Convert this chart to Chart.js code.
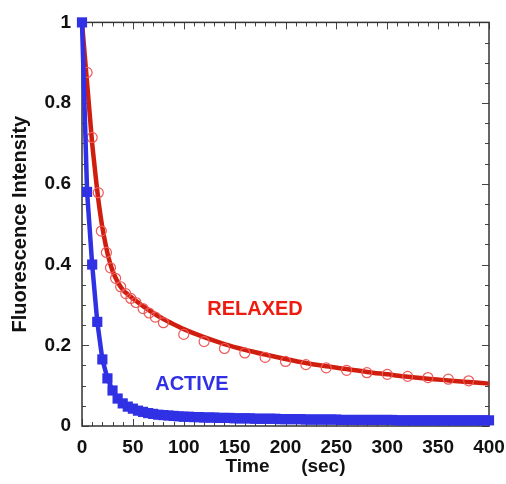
<!DOCTYPE html>
<html>
<head>
<meta charset="utf-8">
<title>Fluorescence decay</title>
<script src="https://cdn.jsdelivr.net/npm/chart.js@4.4.1/dist/chart.umd.min.js"></script>
<style>
    html, body { margin: 0; padding: 0; background: #ffffff; }
    #wrap { width: 506px; height: 484px; }
</style>
</head>
<body>
<div id="wrap"><canvas id="decay"></canvas></div>
<script>
// Fluorescence decay after photobleaching, active vs relaxed fibres
// values

// ACTIVE: measured points every 5 sec (blue squares, joined by the fit)
const activeTime = [
    0, 5, 10, 15, 20, 25, 30, 35, 40, 45,
    50, 55, 60, 65, 70, 75, 80, 85, 90, 95,
    100, 105, 110, 115, 120, 125, 130, 135, 140, 145,
    150, 155, 160, 165, 170, 175, 180, 185, 190, 195,
    200, 205, 210, 215, 220, 225, 230, 235, 240, 245,
    250, 255, 260, 265, 270, 275, 280, 285, 290, 295,
    300, 305, 310, 315, 320, 325, 330, 335, 340, 345,
    350, 355, 360, 365, 370, 375, 380, 385, 390, 395,
    400
];
const activeIntensity = [
    1.000, 0.580, 0.400, 0.258, 0.165, 0.118, 0.088, 0.068, 0.056, 0.048,
    0.043, 0.038, 0.035, 0.032, 0.030, 0.028, 0.027, 0.026, 0.025, 0.024,
    0.023, 0.023, 0.022, 0.022, 0.021, 0.021, 0.021, 0.020, 0.020, 0.020,
    0.019, 0.019, 0.019, 0.019, 0.018, 0.018, 0.018, 0.018, 0.018, 0.017,
    0.017, 0.017, 0.017, 0.017, 0.016, 0.016, 0.016, 0.016, 0.016, 0.016,
    0.016, 0.015, 0.015, 0.015, 0.015, 0.015, 0.015, 0.015, 0.015, 0.015,
    0.015, 0.015, 0.014, 0.014, 0.014, 0.014, 0.014, 0.014, 0.014, 0.014,
    0.014, 0.014, 0.014, 0.014, 0.014, 0.014, 0.014, 0.014, 0.014, 0.014,
    0.014
];

// RELAXED: measured points (red open circles)
const relaxedTime = [
    5, 10, 16, 19, 24, 28, 33, 38, 43, 48,
    53, 60, 66, 72, 80, 100, 120, 140, 160, 180,
    200, 220, 240, 260, 280, 300, 320, 340, 360, 380
];
const relaxedIntensity = [
    0.876, 0.715, 0.578, 0.483, 0.430, 0.392, 0.366, 0.345, 0.328, 0.316,
    0.306, 0.291, 0.280, 0.270, 0.256, 0.227, 0.209, 0.192, 0.181, 0.170,
    0.160, 0.152, 0.144, 0.138, 0.132, 0.128, 0.123, 0.120, 0.116, 0.112
];

// RELAXED: fitted curve (red line)
const relaxedFitTime = [
    0, 2, 4, 6, 8, 10, 12, 14, 16, 18,
    20, 23, 26, 30, 35, 40, 45, 50, 60, 70,
    80, 90, 100, 120, 140, 160, 180, 200, 220, 240,
    260, 280, 300, 320, 340, 360, 380, 400
];
const relaxedFitIntensity = [
    1.000, 0.940, 0.880, 0.820, 0.760, 0.700, 0.652, 0.605, 0.562, 0.525,
    0.492, 0.452, 0.418, 0.385, 0.357, 0.338, 0.326, 0.316, 0.297, 0.280,
    0.265, 0.252, 0.240, 0.220, 0.203, 0.189, 0.177, 0.166, 0.156, 0.148,
    0.141, 0.134, 0.128, 0.122, 0.117, 0.113, 0.109, 0.105
];

const xTicks = [0, 50, 100, 150, 200, 250, 300, 350, 400];
const yTicks = [0, 0.2, 0.4, 0.6, 0.8, 1];

const BLUE = "#3030e4";
const RED_LINE = "#d01e0e";
const RED_MARK = "#ee5a5a";
const FONT = "'Liberation Sans', Arial, sans-serif";

function toPoints(xs, ys) {
    return xs.map((x, i) => ({ x: x, y: ys[i] }));
}

// box round the plot with inward ticks on all four sides
const frameTicks = {
    id: "frameTicks",
    beforeDatasetsDraw(chart) {
        const { ctx, chartArea: a, scales: { x, y } } = chart;
        ctx.save();
        ctx.strokeStyle = "#444";
        ctx.lineWidth = 1;
        ctx.beginPath();
        // x: minor every 10 sec, major every 50
        for (let v = 0; v <= 400; v += 10) {
            const px = Math.round(x.getPixelForValue(v)) + 0.5;
            const len = v % 50 === 0 ? 7 : 4;
            ctx.moveTo(px, a.bottom); ctx.lineTo(px, a.bottom - len);
            ctx.moveTo(px, a.top); ctx.lineTo(px, a.top + len);
        }
        // y: minor every 0.05, major every 0.2
        for (let i = 0; i <= 20; i++) {
            const py = Math.round(y.getPixelForValue(i * 0.05)) + 0.5;
            const len = i % 4 === 0 ? 7 : 4;
            ctx.moveTo(a.left, py); ctx.lineTo(a.left + len, py);
            ctx.moveTo(a.right, py); ctx.lineTo(a.right - len, py);
        }
        ctx.stroke();
        ctx.lineWidth = 1.5;
        ctx.strokeStyle = "#333";
        ctx.strokeRect(a.left, a.top, a.width, a.height);
        ctx.restore();
    }
};

// the two series names written inside the plot
const seriesNames = {
    id: "seriesNames",
    afterDatasetsDraw(chart) {
        const { ctx, scales: { x, y } } = chart;
        ctx.save();
        ctx.font = "bold 20px " + FONT;
        ctx.textAlign = "center";
        ctx.textBaseline = "middle";
        ctx.fillStyle = "#ee1c10";
        ctx.fillText("RELAXED", x.getPixelForValue(170), y.getPixelForValue(0.288));
        ctx.fillStyle = BLUE;
        ctx.fillText("ACTIVE", x.getPixelForValue(108), y.getPixelForValue(0.104));
        ctx.restore();
    }
};

new Chart(document.getElementById("decay"), {
    type: "scatter",
    data: {
        datasets: [
            {
                label: "Active",
                data: toPoints(activeTime, activeIntensity),
                showLine: true,
                borderColor: BLUE,
                backgroundColor: BLUE,
                borderWidth: 4.5,
                pointStyle: "rect",
                pointRadius: 7.2,
                pointBorderWidth: 0,
                clip: false,
                order: 0
            },
            {
                label: "Relaxed data",
                data: toPoints(relaxedTime, relaxedIntensity),
                showLine: false,
                borderColor: RED_MARK,
                backgroundColor: "rgba(0,0,0,0)",
                pointStyle: "circle",
                pointRadius: 5,
                pointBorderWidth: 1.2,
                clip: false,
                order: 1
            },
            {
                label: "Relaxed fit",
                data: toPoints(relaxedFitTime, relaxedFitIntensity),
                showLine: true,
                borderColor: RED_LINE,
                borderWidth: 4.5,
                pointRadius: 0,
                cubicInterpolationMode: "monotone",
                clip: false,
                order: 2
            }
        ]
    },
    options: {
        responsive: true,
        maintainAspectRatio: false,
        animation: false,
        layout: { padding: { top: 21, right: 17, left: 0, bottom: 0 } },
        plugins: {
            legend: { display: false },
            tooltip: { enabled: false }
        },
        scales: {
            x: {
                type: "linear",
                min: 0,
                max: 400,
                afterFit: function(scale) {
                    scale.height = 58;
                    // let the "400" label hang past the plot edge
                    scale.paddingLeft = 0;
                    scale.paddingRight = 0;
                },
                afterBuildTicks: function(scale) {
                    scale.ticks = xTicks.map(v => ({ value: v }));
                },
                grid: { display: false, drawTicks: false },
                border: { display: false },
                ticks: {
                    padding: 10,
                    color: "#111",
                    maxRotation: 0,
                    font: { family: FONT, size: 19, weight: "bold" }
                },
                title: {
                    display: true,
                    text: "Time      (sec)",
                    color: "#111",
                    padding: { top: 0, bottom: 6 },
                    font: { family: FONT, size: 19, weight: "bold" }
                }
            },
            y: {
                min: 0,
                max: 1,
                afterFit: function(scale) { scale.width = 82; },
                afterBuildTicks: function(scale) {
                    scale.ticks = yTicks.map(v => ({ value: v }));
                },
                grid: { display: false, drawTicks: false },
                border: { display: false },
                ticks: {
                    padding: 11,
                    color: "#111",
                    font: { family: FONT, size: 19, weight: "bold" },
                    callback: function(value) { return String(value); }
                },
                title: {
                    display: true,
                    text: "Fluorescence Intensity",
                    color: "#111",
                    padding: { top: 8, bottom: 0 },
                    font: { family: FONT, size: 20, weight: "bold" }
                }
            }
        }
    },
    plugins: [frameTicks, seriesNames]
});
</script>
</body>
</html>
